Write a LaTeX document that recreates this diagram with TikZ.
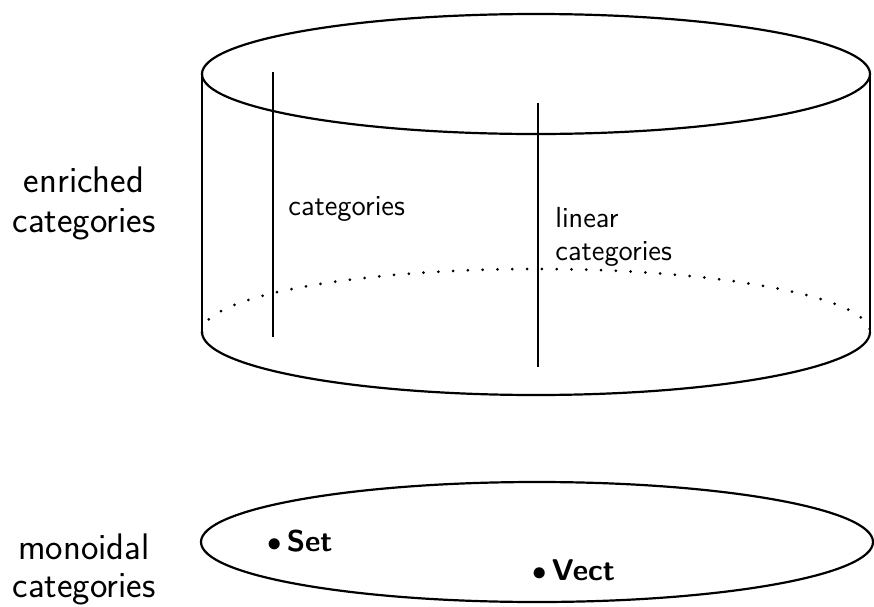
\documentclass[tikz,border=0pt]{standalone}
\usepackage{fontspec}
\begin{document}
\begin{tikzpicture}[x=0.5pt,y=-0.5pt,
  rim/.style={line width=1.1pt},
  fibre/.style={line width=0.7pt},
  hidden/.style={line width=1.5pt, line cap=round, dash pattern=on 0pt off 7.4pt},
  sidelabel/.style={font=\sffamily\fontsize{18.5}{20}\selectfont, inner sep=0pt, anchor=base},
  innerlabel/.style={font=\sffamily\fontsize{14.5}{16.5}\selectfont, inner sep=0pt, anchor=base west},
  point/.style={font=\sffamily\bfseries\fontsize{15}{17}\selectfont, inner sep=0pt, anchor=base west}]
  \useasboundingbox (0,0) rectangle (874,606);

  % cylinder of enriched categories
  \coordinate (topL) at (202,74);
  \coordinate (topR) at (870,74);
  \coordinate (botL) at (202,332);
  \coordinate (botR) at (870,332);
  \draw[rim] (536,74) ellipse [x radius=167pt, y radius=30pt];
  \draw[rim] (topL) -- (botL);
  \draw[rim] (topR) -- (botR);
  \draw[rim] (botL) arc [start angle=180, end angle=360, x radius=167pt, y radius=31.5pt];
  \draw[hidden] (botL) arc [start angle=180, end angle=0, x radius=167pt, y radius=31.5pt];

  % fibres over Set and Vect
  \coordinate (setTop) at (273,72);
  \coordinate (setBot) at (273,337);
  \coordinate (vectTop) at (538,103);
  \coordinate (vectBot) at (538,367);
  \draw[fibre] (setTop) -- (setBot);
  \draw[fibre] (vectTop) -- (vectBot);

  \node[innerlabel] (cats) at (288,215) {categories};
  \node[innerlabel] (lin1) at (555,227) {linear};
  \node[innerlabel] (lin2) at (555,260) {categories};

  % base of monoidal categories
  \draw[rim] (537,542) ellipse [x radius=168pt, y radius=30pt];
  \node[point] (set) at (267,551) {$\bullet$\,Set};
  \node[point] (vect) at (532,580) {$\bullet$\,Vect};

  % side labels
  \node[sidelabel] (en1) at (84,192) {enriched};
  \node[sidelabel] (en2) at (84,232) {categories};
  \node[sidelabel] (mo1) at (84,559) {monoidal};
  \node[sidelabel] (mo2) at (84,597) {categories};
\end{tikzpicture}
\end{document}
